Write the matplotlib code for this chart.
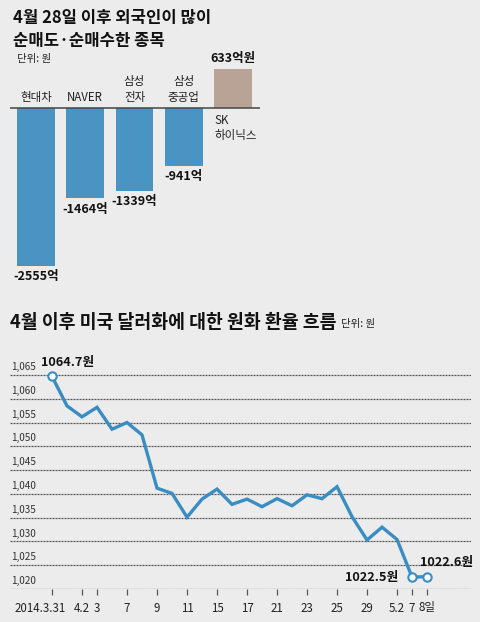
import matplotlib
matplotlib.use("Agg")
import matplotlib.pyplot as plt
import matplotlib.transforms as mtransforms
from matplotlib import font_manager

plt.rcParams['font.family'] = ['Noto Sans CJK KR', 'DejaVu Sans']

names = {f.name for f in font_manager.fontManager.ttflist}
NARROW = ['Liberation Sans Narrow', 'Noto Sans CJK KR'] if 'Liberation Sans Narrow' in names \
    else ['Noto Sans CJK KR']

# 외국인 순매도/순매수 종목 (억원)
종목 = ['현대차', 'NAVER', '삼성\n전자', '삼성\n중공업', 'SK\n하이닉스']
순매매 = [-2555, -1464, -1339, -941, 633]
값라벨 = ['-2555억', '-1464억', '-1339억', '-941억', '633억원']

# 원/달러 환율
날짜 = ['3.31', '4.1', '4.2', '4.3', '4.4', '4.7', '4.8', '4.9', '4.10', '4.11',
      '4.14', '4.15', '4.16', '4.17', '4.18', '4.21', '4.22', '4.23', '4.24',
      '4.25', '4.28', '4.29', '4.30', '5.2', '5.7', '5.8']
환율 = [1064.7, 1058.5, 1056.2, 1058.2, 1053.6, 1055.0, 1052.4, 1041.2, 1040.1,
      1035.1, 1038.9, 1041.0, 1037.8, 1038.9, 1037.3, 1039.0, 1037.5, 1039.8,
      1039.0, 1041.5, 1035.2, 1030.3, 1033.0, 1030.4, 1022.5, 1022.6]
눈금날짜 = ['3.31', '4.2', '4.3', '4.7', '4.9', '4.11', '4.15', '4.17', '4.21',
        '4.23', '4.25', '4.29', '5.2', '5.7', '5.8']
눈금라벨 = ['2014.3.31', '4.2', '3', '7', '9', '11', '15', '17', '21', '23',
        '25', '29', '5.2', '7', '8일']
y눈금 = [1020, 1025, 1030, 1035, 1040, 1045, 1050, 1055, 1060, 1065]

BG = '#ececec'
BLUE = '#4a94c4'
BROWN = '#b8a396'
LINE = '#3a8dc2'
W, H = 480, 622


def fr(x0, y0, x1, y1):
    # pixel box -> figure fraction [left, bottom, width, height]
    return [x0 / W, 1 - y1 / H, (x1 - x0) / W, (y1 - y0) / H]


fig = plt.figure(figsize=(4.8, 6.22), dpi=100, facecolor=BG)

# 제목
fig.text(13 / W, 1 - 18 / H, '4월 28일 이후 외국인이 많이', fontsize=12,
         fontweight='bold', va='center', color='#111111')
fig.text(13 / W, 1 - 41 / H, '순매도·순매수한 종목', fontsize=12,
         fontweight='bold', va='center', color='#111111')
fig.text(17 / W, 1 - 59 / H, '단위: 원', fontsize=7.5, va='center', color='#222222')

# ---- 막대 그래프 ----
ax1 = fig.add_axes(fr(10, 50, 260, 290))
ax1.set_facecolor('none')
ax1.axis('off')
ax1.set_xlim(-0.53, 4.55)
ax1.set_ylim(-2945, 938)
x = list(range(len(종목)))
colors = [BLUE if v < 0 else BROWN for v in 순매매]
ax1.bar(x, 순매매, width=0.77, color=colors, edgecolor='none', zorder=2)
ax1.axhline(0, color='#444444', lw=1.1, zorder=3)

for i, (name, v, lab) in enumerate(zip(종목, 순매매, 값라벨)):
    if v < 0:
        ax1.annotate(name, (i, 0), xytext=(0, 3), textcoords='offset points',
                     ha='center', va='bottom', fontsize=8.3, linespacing=1.25,
                     color='#222222')
        ax1.annotate(lab, (i, v), xytext=(0, -3), textcoords='offset points',
                     ha='center', va='top', fontsize=9, fontweight='bold',
                     color='#111111')
    else:
        ax1.annotate(name, (i - 0.38, 0), xytext=(0, -4), textcoords='offset points',
                     ha='left', va='top', fontsize=8.3, linespacing=1.25,
                     color='#222222')
        ax1.annotate(lab, (i, v), xytext=(0, 3), textcoords='offset points',
                     ha='center', va='bottom', fontsize=9, fontweight='bold',
                     color='#111111')

# ---- 환율 그래프 ----
fig.text(10 / W, 1 - 323 / H, '4월 이후 미국 달러화에 대한 원화 환율 흐름',
         fontsize=13.2, fontweight='bold', va='center', color='#111111')
fig.text(341 / W, 1 - 324 / H, '단위: 원', fontsize=7.5, va='center',
         color='#222222')

ax2 = fig.add_axes(fr(10, 350, 471, 589))
ax2.set_facecolor('none')
xs = list(range(len(날짜)))
ax2.set_xlim(-2.8, 27.93)
ax2.set_ylim(1020, 1070.25)
for s in ax2.spines.values():
    s.set_visible(False)

ax2.set_yticks(y눈금)
ax2.tick_params(axis='y', length=0, labelleft=False)
ax2.yaxis.grid(True, color='#555555', lw=0.9, linestyle=(0, (1.6, 0.8)))
ax2.set_axisbelow(True)
tr = mtransforms.blended_transform_factory(ax2.transAxes, ax2.transData)
for v in y눈금:
    ax2.text(0.003, v + 0.6, f'{v:,}', transform=tr, fontsize=7.2,
             family=NARROW, ha='left', va='bottom', color='#333333')

ax2.set_xticks([날짜.index(d) for d in 눈금날짜])
ax2.set_xticklabels(눈금라벨, fontsize=8.3, family=NARROW, color='#222222')
ax2.tick_params(axis='x', direction='out', length=4, width=0.9,
                color='#555555', pad=5)
# 첫 라벨은 눈금 왼쪽으로 치우쳐 있음
first = ax2.get_xticklabels()[0]
first.set_transform(first.get_transform() +
                    mtransforms.ScaledTranslation(-0.12, 0, fig.dpi_scale_trans))

ax2.plot(xs, 환율, color=LINE, lw=2.4, solid_joinstyle='miter', zorder=3)
mk = [0, len(xs) - 2, len(xs) - 1]
ax2.plot([xs[i] for i in mk], [환율[i] for i in mk], 'o', ms=6,
         mfc='white', mec=LINE, mew=1.5, zorder=4)

ax2.annotate(f'{환율[0]}원', (xs[0], 환율[0]), xytext=(11, 10),
             textcoords='offset points', ha='center', va='center',
             fontsize=9.2, fontweight='bold', color='#111111')
ax2.annotate(f'{환율[-2]}원', (xs[-2], 환율[-2]), xytext=(-10, 0),
             textcoords='offset points', ha='right', va='center',
             fontsize=9.2, fontweight='bold', color='#111111')
ax2.annotate(f'{환율[-1]}원', (xs[-1], 환율[-1]), xytext=(14, 10),
             textcoords='offset points', ha='center', va='center',
             fontsize=9.2, fontweight='bold', color='#111111')

fig.savefig('out.png', dpi=100, facecolor=BG)
